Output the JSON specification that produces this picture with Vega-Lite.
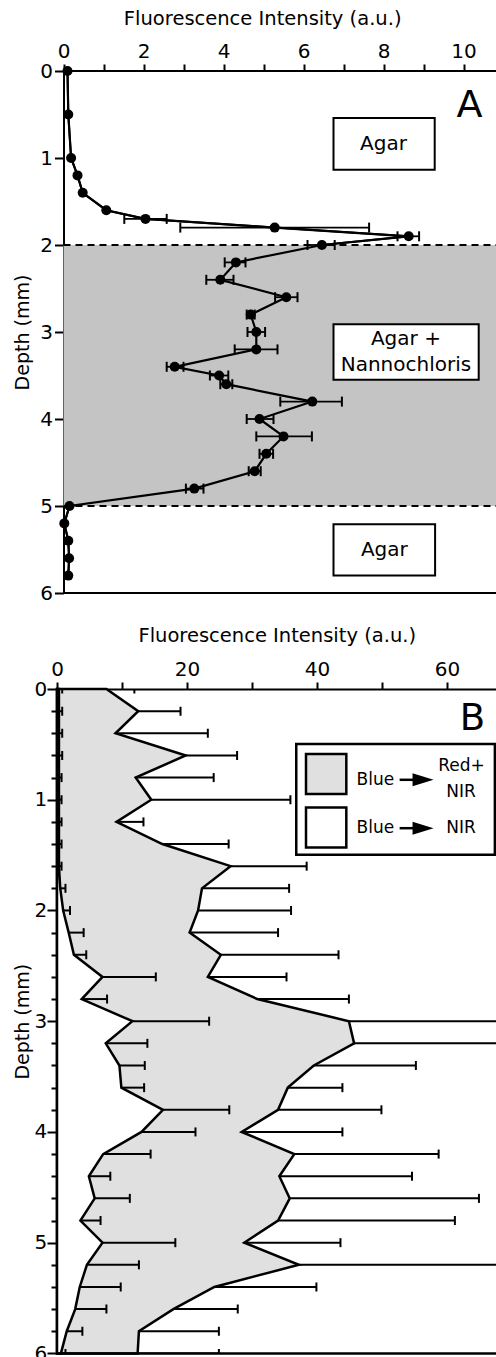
{
  "$schema": "https://vega.github.io/schema/vega-lite/v6.json",
  "padding": {"left": 13, "top": 8, "right": 0, "bottom": 0},
  "config": {
    "font": "DejaVu Sans",
    "view": {"stroke": null},
    "axis": {"grid": false, "domainColor": "#000", "tickColor": "#000", "labelColor": "#000", "titleColor": "#000", "domainWidth": 2, "tickWidth": 2, "labelFontSize": 20, "titleFontSize": 19.5, "titleFontWeight": "normal", "labelFlush": false, "labelOverlap": false, "labelFont": "DejaVu Sans", "titleFont": "DejaVu Sans", "tickCount": 40}
  },
  "datasets": {
    "a": [
      {"depth": 0, "v": 0.1},
      {"depth": 0.5, "v": 0.12},
      {"depth": 1.0, "v": 0.19},
      {"depth": 1.2, "v": 0.35},
      {"depth": 1.4, "v": 0.48},
      {"depth": 1.6, "v": 1.07},
      {"depth": 1.7, "v": 2.05, "lo": 1.52, "hi": 2.58},
      {"depth": 1.8, "v": 5.28, "lo": 2.92, "hi": 7.64},
      {"depth": 1.9, "v": 8.63, "lo": 8.35, "hi": 8.89},
      {"depth": 2.0, "v": 6.46, "lo": 6.1, "hi": 6.78},
      {"depth": 2.2, "v": 4.31, "lo": 4.03, "hi": 4.55},
      {"depth": 2.4, "v": 3.92, "lo": 3.57, "hi": 4.25},
      {"depth": 2.6, "v": 5.57, "lo": 5.29, "hi": 5.85},
      {"depth": 2.8, "v": 4.68, "lo": 4.58, "hi": 4.78},
      {"depth": 3.0, "v": 4.82, "lo": 4.6, "hi": 5.04},
      {"depth": 3.2, "v": 4.82, "lo": 4.28, "hi": 5.35},
      {"depth": 3.4, "v": 2.78, "lo": 2.58, "hi": 3.0},
      {"depth": 3.5, "v": 3.89, "lo": 3.66, "hi": 4.12},
      {"depth": 3.6, "v": 4.07, "lo": 3.92, "hi": 4.22},
      {"depth": 3.8, "v": 6.22, "lo": 5.42, "hi": 6.96},
      {"depth": 4.0, "v": 4.9, "lo": 4.58, "hi": 5.25},
      {"depth": 4.2, "v": 5.5, "lo": 4.82, "hi": 6.21},
      {"depth": 4.4, "v": 5.07, "lo": 4.9, "hi": 5.24},
      {"depth": 4.6, "v": 4.78, "lo": 4.63, "hi": 4.93},
      {"depth": 4.8, "v": 3.27, "lo": 3.06, "hi": 3.5},
      {"depth": 5.0, "v": 0.15},
      {"depth": 5.2, "v": 0.02},
      {"depth": 5.4, "v": 0.12},
      {"depth": 5.6, "v": 0.14},
      {"depth": 5.8, "v": 0.12}
    ],
    "gray": [
      {"depth": 0.0, "v": 7.6, "hi": 11.9},
      {"depth": 0.2, "v": 12.5, "hi": 19.0},
      {"depth": 0.4, "v": 9.0, "hi": 23.2},
      {"depth": 0.6, "v": 19.8, "hi": 27.7},
      {"depth": 0.8, "v": 12.1, "hi": 24.1},
      {"depth": 1.0, "v": 14.5, "hi": 35.9},
      {"depth": 1.2, "v": 9.15, "hi": 13.3},
      {"depth": 1.4, "v": 16.2, "hi": 26.4},
      {"depth": 1.6, "v": 26.7, "hi": 38.4},
      {"depth": 1.8, "v": 22.3, "hi": 35.7},
      {"depth": 2.0, "v": 21.7, "hi": 36.0},
      {"depth": 2.2, "v": 20.4, "hi": 34.0},
      {"depth": 2.4, "v": 25.2, "hi": 43.3},
      {"depth": 2.6, "v": 23.2, "hi": 35.3},
      {"depth": 2.8, "v": 30.8, "hi": 44.9},
      {"depth": 3.0, "v": 44.9, "hi": 75},
      {"depth": 3.2, "v": 45.7, "hi": 75},
      {"depth": 3.4, "v": 39.5, "hi": 55.2},
      {"depth": 3.6, "v": 35.5, "hi": 43.9},
      {"depth": 3.8, "v": 34.0, "hi": 49.9},
      {"depth": 4.0, "v": 28.4, "hi": 43.9},
      {"depth": 4.2, "v": 36.5, "hi": 58.7},
      {"depth": 4.4, "v": 34.2, "hi": 54.6},
      {"depth": 4.6, "v": 35.8, "hi": 64.9},
      {"depth": 4.8, "v": 34.0, "hi": 61.2},
      {"depth": 5.0, "v": 28.8, "hi": 43.6},
      {"depth": 5.2, "v": 37.2, "hi": 75},
      {"depth": 5.4, "v": 24.2, "hi": 39.9},
      {"depth": 5.6, "v": 17.9, "hi": 27.8},
      {"depth": 5.8, "v": 12.6, "hi": 24.9},
      {"depth": 6.0, "v": 12.4, "hi": 24.9}
    ],
    "white": [
      {"depth": 0.0, "v": 0.3, "hi": 0.8},
      {"depth": 0.2, "v": 0.3, "hi": 0.8},
      {"depth": 0.4, "v": 0.3, "hi": 0.8},
      {"depth": 0.6, "v": 0.3, "hi": 0.8},
      {"depth": 0.8, "v": 0.3, "hi": 0.7},
      {"depth": 1.0, "v": 0.3, "hi": 0.7},
      {"depth": 1.2, "v": 0.3, "hi": 0.7},
      {"depth": 1.4, "v": 0.3, "hi": 0.7},
      {"depth": 1.6, "v": 0.3, "hi": 0.7},
      {"depth": 1.8, "v": 0.5, "hi": 1.3},
      {"depth": 2.0, "v": 0.95, "hi": 2.0},
      {"depth": 2.2, "v": 1.8, "hi": 4.1},
      {"depth": 2.4, "v": 2.6, "hi": 4.5},
      {"depth": 2.6, "v": 7.0, "hi": 15.2},
      {"depth": 2.8, "v": 3.8, "hi": 7.7},
      {"depth": 3.0, "v": 11.6, "hi": 23.4},
      {"depth": 3.2, "v": 7.5, "hi": 13.9},
      {"depth": 3.4, "v": 9.6, "hi": 13.5},
      {"depth": 3.6, "v": 9.9, "hi": 13.4},
      {"depth": 3.8, "v": 16.3, "hi": 26.5},
      {"depth": 4.0, "v": 13.0, "hi": 21.3},
      {"depth": 4.2, "v": 7.1, "hi": 14.4},
      {"depth": 4.4, "v": 4.9, "hi": 8.2},
      {"depth": 4.6, "v": 5.8, "hi": 11.2},
      {"depth": 4.8, "v": 3.6, "hi": 6.7},
      {"depth": 5.0, "v": 7.0, "hi": 18.2},
      {"depth": 5.2, "v": 4.6, "hi": 12.6},
      {"depth": 5.4, "v": 3.5, "hi": 9.8},
      {"depth": 5.6, "v": 2.8, "hi": 7.6},
      {"depth": 5.8, "v": 1.5, "hi": 3.9},
      {"depth": 6.0, "v": 0.6, "hi": 1.3}
    ]
  },
  "columns": 1,
  "spacing": 22,
  "concat": [
    {
      "width": 439.5,
      "height": 522,
      "data": {"name": "a"},
      "layer": [
        {"mark": {"type": "line", "color": "#000", "strokeWidth": 2},
         "encoding": {
           "x": {"field": "v", "type": "quantitative", "scale": {"domain": [-0.1625, 10.825], "nice": false, "zero": false},
                 "axis": {"orient": "top", "domain": false, "values": [0, 1, 2, 3, 4, 5, 6, 7, 8, 9, 10], "labelExpr": "datum.value % 2 === 0 ? format(datum.value, 'd') : ''", "title": "Fluorescence Intensity (a.u.)", "tickSize": 7, "labelPadding": 3, "titleX": 205.2, "titleY": -53, "titleBaseline": "middle", "titleAlign": "center"}},
           "y": {"field": "depth", "type": "quantitative", "scale": {"domain": [0, 6], "nice": false, "reverse": true},
                 "axis": {"values": [0, 1, 2, 3, 4, 5, 6], "format": "d", "offset": -6.5, "title": "Depth (mm)", "titleFontSize": 19, "tickSize": 9, "labelPadding": 2, "titlePadding": 7.3}},
           "order": {"field": "depth", "type": "quantitative"}}},
        {"data": {"values": [{}]}, "mark": {"type": "rect", "color": "#c4c4c4"},
         "encoding": {"x": {"datum": 0, "type": "quantitative", "scale": {"domain": [-0.1625, 10.825], "nice": false, "zero": false}}, "x2": {"datum": 10.825},
                      "y": {"datum": 2, "type": "quantitative", "scale": {"domain": [0, 6], "nice": false, "reverse": true}}, "y2": {"datum": 5}}},
        {"data": {"values": [{}]}, "mark": {"type": "rule", "strokeDash": [7, 5], "strokeWidth": 2, "color": "#000"},
         "encoding": {"x": {"datum": 0, "type": "quantitative", "scale": {"domain": [-0.1625, 10.825], "nice": false, "zero": false}}, "x2": {"datum": 10.825},
                      "y": {"datum": 2, "type": "quantitative", "scale": {"domain": [0, 6], "nice": false, "reverse": true}}}},
        {"data": {"values": [{}]}, "mark": {"type": "rule", "strokeDash": [7, 5], "strokeWidth": 2, "color": "#000"},
         "encoding": {"x": {"datum": 0, "type": "quantitative", "scale": {"domain": [-0.1625, 10.825], "nice": false, "zero": false}}, "x2": {"datum": 10.825},
                      "y": {"datum": 5, "type": "quantitative", "scale": {"domain": [0, 6], "nice": false, "reverse": true}}}},
        {"data": {"values": [{}]}, "mark": {"type": "rule", "strokeWidth": 2, "color": "#000"},
         "encoding": {"x": {"datum": 0, "type": "quantitative", "scale": {"domain": [-0.1625, 10.825], "nice": false, "zero": false}}, "x2": {"datum": 10.825},
                      "y": {"datum": 6, "type": "quantitative", "scale": {"domain": [0, 6], "nice": false, "reverse": true}}}},
        {"data": {"values": [{}]}, "mark": {"type": "rule", "strokeWidth": 2, "color": "#000"},
         "encoding": {"x": {"datum": 0, "type": "quantitative", "scale": {"domain": [-0.1625, 10.825], "nice": false, "zero": false}}, "x2": {"datum": 10.825},
                      "y": {"datum": 0, "type": "quantitative", "scale": {"domain": [0, 6], "nice": false, "reverse": true}}}},
        {"mark": {"type": "rule", "strokeWidth": 1.8, "color": "#000"},
         "encoding": {"x": {"field": "lo", "type": "quantitative", "scale": {"domain": [-0.1625, 10.825], "nice": false, "zero": false}}, "x2": {"field": "hi"},
                      "y": {"field": "depth", "type": "quantitative", "scale": {"domain": [0, 6], "nice": false, "reverse": true}}}},
        {"mark": {"type": "tick", "orient": "vertical", "size": 10, "thickness": 2, "color": "#000", "opacity": 1},
         "encoding": {"x": {"field": "lo", "type": "quantitative", "scale": {"domain": [-0.1625, 10.825], "nice": false, "zero": false}},
                      "y": {"field": "depth", "type": "quantitative", "scale": {"domain": [0, 6], "nice": false, "reverse": true}}}},
        {"mark": {"type": "tick", "orient": "vertical", "size": 10, "thickness": 2, "color": "#000", "opacity": 1},
         "encoding": {"x": {"field": "hi", "type": "quantitative", "scale": {"domain": [-0.1625, 10.825], "nice": false, "zero": false}},
                      "y": {"field": "depth", "type": "quantitative", "scale": {"domain": [0, 6], "nice": false, "reverse": true}}}},
        {"mark": {"type": "line", "color": "#000", "strokeWidth": 2.2},
         "encoding": {"x": {"field": "v", "type": "quantitative", "scale": {"domain": [-0.1625, 10.825], "nice": false, "zero": false}},
                      "y": {"field": "depth", "type": "quantitative", "scale": {"domain": [0, 6], "nice": false, "reverse": true}},
                      "order": {"field": "depth", "type": "quantitative"}}},
        {"mark": {"type": "point", "filled": true, "color": "#000", "size": 100, "opacity": 1},
         "encoding": {"x": {"field": "v", "type": "quantitative", "scale": {"domain": [-0.1625, 10.825], "nice": false, "zero": false}},
                      "y": {"field": "depth", "type": "quantitative", "scale": {"domain": [0, 6], "nice": false, "reverse": true}}}},
        {"data": {"values": [{}]}, "mark": {"type": "rect", "fill": "#fff", "stroke": "#000", "strokeWidth": 2},
         "encoding": {"x": {"datum": 6.75, "type": "quantitative", "scale": {"domain": [-0.1625, 10.825], "nice": false, "zero": false}}, "x2": {"datum": 9.28},
                      "y": {"datum": 0.54, "type": "quantitative", "scale": {"domain": [0, 6], "nice": false, "reverse": true}}, "y2": {"datum": 1.135}}},
        {"data": {"values": [{}]}, "mark": {"type": "rect", "fill": "#fff", "stroke": "#000", "strokeWidth": 2},
         "encoding": {"x": {"datum": 6.75, "type": "quantitative", "scale": {"domain": [-0.1625, 10.825], "nice": false, "zero": false}}, "x2": {"datum": 10.38},
                      "y": {"datum": 2.91, "type": "quantitative", "scale": {"domain": [0, 6], "nice": false, "reverse": true}}, "y2": {"datum": 3.55}}},
        {"data": {"values": [{}]}, "mark": {"type": "rect", "fill": "#fff", "stroke": "#000", "strokeWidth": 2},
         "encoding": {"x": {"datum": 6.75, "type": "quantitative", "scale": {"domain": [-0.1625, 10.825], "nice": false, "zero": false}}, "x2": {"datum": 9.29},
                      "y": {"datum": 5.21, "type": "quantitative", "scale": {"domain": [0, 6], "nice": false, "reverse": true}}, "y2": {"datum": 5.8}}},
        {"data": {"values": [{"t": "Agar"}]}, "mark": {"type": "text", "fontSize": 20, "color": "#000"},
         "encoding": {"x": {"datum": 8.0, "type": "quantitative", "scale": {"domain": [-0.1625, 10.825], "nice": false, "zero": false}},
                      "y": {"datum": 0.84, "type": "quantitative", "scale": {"domain": [0, 6], "nice": false, "reverse": true}}, "text": {"field": "t"}}},
        {"data": {"values": [{"t": "Agar +"}]}, "mark": {"type": "text", "fontSize": 20, "color": "#000"},
         "encoding": {"x": {"datum": 8.56, "type": "quantitative", "scale": {"domain": [-0.1625, 10.825], "nice": false, "zero": false}},
                      "y": {"datum": 3.077, "type": "quantitative", "scale": {"domain": [0, 6], "nice": false, "reverse": true}}, "text": {"field": "t"}}},
        {"data": {"values": [{"t": "Nannochloris"}]}, "mark": {"type": "text", "fontSize": 20, "color": "#000"},
         "encoding": {"x": {"datum": 8.56, "type": "quantitative", "scale": {"domain": [-0.1625, 10.825], "nice": false, "zero": false}},
                      "y": {"datum": 3.383, "type": "quantitative", "scale": {"domain": [0, 6], "nice": false, "reverse": true}}, "text": {"field": "t"}}},
        {"data": {"values": [{"t": "Agar"}]}, "mark": {"type": "text", "fontSize": 20, "color": "#000"},
         "encoding": {"x": {"datum": 8.02, "type": "quantitative", "scale": {"domain": [-0.1625, 10.825], "nice": false, "zero": false}},
                      "y": {"datum": 5.505, "type": "quantitative", "scale": {"domain": [0, 6], "nice": false, "reverse": true}}, "text": {"field": "t"}}},
        {"data": {"values": [{"t": "A"}]}, "mark": {"type": "text", "fontSize": 38, "color": "#000"},
         "encoding": {"x": {"datum": 10.15, "type": "quantitative", "scale": {"domain": [-0.1625, 10.825], "nice": false, "zero": false}},
                      "y": {"datum": 0.4, "type": "quantitative", "scale": {"domain": [0, 6], "nice": false, "reverse": true}}, "text": {"field": "t"}}}
      ]
    },
    {
      "width": 439.5,
      "height": 664.4,
      "layer": [
        {"data": {"name": "gray"}, "mark": {"type": "area", "orient": "horizontal", "fill": "#e0e0e0", "stroke": "#000", "strokeWidth": 2.5, "opacity": 1},
         "encoding": {"x": {"field": "v", "type": "quantitative", "stack": null, "scale": {"domain": [0, 67.6], "nice": false},
                            "axis": {"orient": "top", "values": [0, 10, 20, 30, 40, 50, 60], "labelExpr": "datum.value % 20 === 0 ? datum.label : ''", "title": "Fluorescence Intensity (a.u.)", "tickSize": 7, "labelPadding": 3, "titlePadding": 14}},
                      "y": {"field": "depth", "type": "quantitative", "scale": {"domain": [0, 6], "nice": false, "reverse": true},
                            "axis": {"values": [0, 0.2, 0.4, 0.6, 0.8, 1, 1.2, 1.4, 1.6, 1.8, 2, 2.2, 2.4, 2.6, 2.8, 3, 3.2, 3.4, 3.6, 3.8, 4, 4.2, 4.4, 4.6, 4.8, 5, 5.2, 5.4, 5.6, 5.8, 6],
                                     "tickCount": 40, "tickMinStep": 0.1, "labelExpr": "datum.value % 1 === 0 ? format(datum.value, 'd') : ''", "title": "Depth (mm)", "titleFontSize": 19,
                                     "tickSize": {"condition": {"test": "datum.value % 1 === 0", "value": 10}, "value": 6}, "labelPadding": 0.3, "titlePadding": 1.5}}}},
        {"data": {"name": "gray"}, "mark": {"type": "rule", "strokeWidth": 2, "color": "#000", "clip": true},
         "encoding": {"x": {"field": "v", "type": "quantitative", "scale": {"domain": [0, 67.6], "nice": false}}, "x2": {"field": "hi"},
                      "y": {"field": "depth", "type": "quantitative", "scale": {"domain": [0, 6], "nice": false, "reverse": true}}}},
        {"data": {"name": "gray"}, "mark": {"type": "tick", "orient": "vertical", "size": 9, "thickness": 2, "color": "#000", "opacity": 1, "clip": true},
         "encoding": {"x": {"field": "hi", "type": "quantitative", "scale": {"domain": [0, 67.6], "nice": false}},
                      "y": {"field": "depth", "type": "quantitative", "scale": {"domain": [0, 6], "nice": false, "reverse": true}}}},
        {"data": {"name": "white"}, "mark": {"type": "area", "orient": "horizontal", "fill": "#fff", "stroke": "#000", "strokeWidth": 2.5, "opacity": 1},
         "encoding": {"x": {"field": "v", "type": "quantitative", "stack": null, "scale": {"domain": [0, 67.6], "nice": false}},
                      "y": {"field": "depth", "type": "quantitative", "scale": {"domain": [0, 6], "nice": false, "reverse": true}}}},
        {"data": {"name": "white"}, "mark": {"type": "rule", "strokeWidth": 2, "color": "#000", "clip": true},
         "encoding": {"x": {"field": "v", "type": "quantitative", "scale": {"domain": [0, 67.6], "nice": false}}, "x2": {"field": "hi"},
                      "y": {"field": "depth", "type": "quantitative", "scale": {"domain": [0, 6], "nice": false, "reverse": true}}}},
        {"data": {"name": "white"}, "mark": {"type": "tick", "orient": "vertical", "size": 9, "thickness": 2, "color": "#000", "opacity": 1, "clip": true},
         "encoding": {"x": {"field": "hi", "type": "quantitative", "scale": {"domain": [0, 67.6], "nice": false}},
                      "y": {"field": "depth", "type": "quantitative", "scale": {"domain": [0, 6], "nice": false, "reverse": true}}}},
        {"data": {"values": [{}]}, "mark": {"type": "rule", "strokeWidth": 2.5, "color": "#000"},
         "encoding": {"y": {"datum": 6, "type": "quantitative", "scale": {"domain": [0, 6], "nice": false, "reverse": true}}}},
        {"data": {"values": [{}]}, "mark": {"type": "rect", "fill": "#fff", "stroke": "#000", "strokeWidth": 2.5},
         "encoding": {"x": {"datum": 36.8, "type": "quantitative", "scale": {"domain": [0, 67.6], "nice": false}}, "x2": {"datum": 67.35},
                      "y": {"datum": 0.497, "type": "quantitative", "scale": {"domain": [0, 6], "nice": false, "reverse": true}}, "y2": {"datum": 1.497}}},
        {"data": {"values": [{}]}, "mark": {"type": "rect", "fill": "#e0e0e0", "stroke": "#000", "strokeWidth": 2.5},
         "encoding": {"x": {"datum": 38.3, "type": "quantitative", "scale": {"domain": [0, 67.6], "nice": false}}, "x2": {"datum": 44.5},
                      "y": {"datum": 0.587, "type": "quantitative", "scale": {"domain": [0, 6], "nice": false, "reverse": true}}, "y2": {"datum": 0.949}}},
        {"data": {"values": [{}]}, "mark": {"type": "rect", "fill": "#fff", "stroke": "#000", "strokeWidth": 2.5},
         "encoding": {"x": {"datum": 38.3, "type": "quantitative", "scale": {"domain": [0, 67.6], "nice": false}}, "x2": {"datum": 44.5},
                      "y": {"datum": 1.07, "type": "quantitative", "scale": {"domain": [0, 6], "nice": false, "reverse": true}}, "y2": {"datum": 1.431}}},
        {"data": {"values": [{"t": "Blue"}]}, "mark": {"type": "text", "fontSize": 17, "color": "#000"},
         "encoding": {"x": {"datum": 48.97, "type": "quantitative", "scale": {"domain": [0, 67.6], "nice": false}},
                      "y": {"datum": 0.82, "type": "quantitative", "scale": {"domain": [0, 6], "nice": false, "reverse": true}}, "text": {"field": "t"}}},
        {"data": {"values": [{"t": "Blue"}]}, "mark": {"type": "text", "fontSize": 17, "color": "#000"},
         "encoding": {"x": {"datum": 48.97, "type": "quantitative", "scale": {"domain": [0, 67.6], "nice": false}},
                      "y": {"datum": 1.257, "type": "quantitative", "scale": {"domain": [0, 6], "nice": false, "reverse": true}}, "text": {"field": "t"}}},
        {"data": {"values": [{"t": "Red+"}]}, "mark": {"type": "text", "fontSize": 17, "color": "#000"},
         "encoding": {"x": {"datum": 62.2, "type": "quantitative", "scale": {"domain": [0, 67.6], "nice": false}},
                      "y": {"datum": 0.693, "type": "quantitative", "scale": {"domain": [0, 6], "nice": false, "reverse": true}}, "text": {"field": "t"}}},
        {"data": {"values": [{"t": "NIR"}]}, "mark": {"type": "text", "fontSize": 17, "color": "#000"},
         "encoding": {"x": {"datum": 62.15, "type": "quantitative", "scale": {"domain": [0, 67.6], "nice": false}},
                      "y": {"datum": 0.928, "type": "quantitative", "scale": {"domain": [0, 6], "nice": false, "reverse": true}}, "text": {"field": "t"}}},
        {"data": {"values": [{"t": "NIR"}]}, "mark": {"type": "text", "fontSize": 17, "color": "#000"},
         "encoding": {"x": {"datum": 62.15, "type": "quantitative", "scale": {"domain": [0, 67.6], "nice": false}},
                      "y": {"datum": 1.257, "type": "quantitative", "scale": {"domain": [0, 6], "nice": false, "reverse": true}}, "text": {"field": "t"}}},
        {"data": {"values": [{}]}, "mark": {"type": "rule", "strokeWidth": 2.5, "color": "#000"},
         "encoding": {"x": {"datum": 52.7, "type": "quantitative", "scale": {"domain": [0, 67.6], "nice": false}}, "x2": {"datum": 56.0},
                      "y": {"datum": 0.82, "type": "quantitative", "scale": {"domain": [0, 6], "nice": false, "reverse": true}}}},
        {"data": {"values": [{}]}, "mark": {"type": "rule", "strokeWidth": 2.5, "color": "#000"},
         "encoding": {"x": {"datum": 52.7, "type": "quantitative", "scale": {"domain": [0, 67.6], "nice": false}}, "x2": {"datum": 56.0},
                      "y": {"datum": 1.257, "type": "quantitative", "scale": {"domain": [0, 6], "nice": false, "reverse": true}}}},
        {"data": {"values": [{}]}, "mark": {"type": "point", "shape": "M-1,-0.62L1,0L-1,0.62Z", "filled": true, "color": "#000", "size": 441, "opacity": 1},
         "encoding": {"x": {"datum": 56.3, "type": "quantitative", "scale": {"domain": [0, 67.6], "nice": false}},
                      "y": {"datum": 0.82, "type": "quantitative", "scale": {"domain": [0, 6], "nice": false, "reverse": true}}}},
        {"data": {"values": [{}]}, "mark": {"type": "point", "shape": "M-1,-0.62L1,0L-1,0.62Z", "filled": true, "color": "#000", "size": 441, "opacity": 1},
         "encoding": {"x": {"datum": 56.3, "type": "quantitative", "scale": {"domain": [0, 67.6], "nice": false}},
                      "y": {"datum": 1.257, "type": "quantitative", "scale": {"domain": [0, 6], "nice": false, "reverse": true}}}},
        {"data": {"values": [{"t": "B"}]}, "mark": {"type": "text", "fontSize": 37, "color": "#000"},
         "encoding": {"x": {"datum": 63.9, "type": "quantitative", "scale": {"domain": [0, 67.6], "nice": false}},
                      "y": {"datum": 0.27, "type": "quantitative", "scale": {"domain": [0, 6], "nice": false, "reverse": true}}, "text": {"field": "t"}}}
      ]
    }
  ]
}
